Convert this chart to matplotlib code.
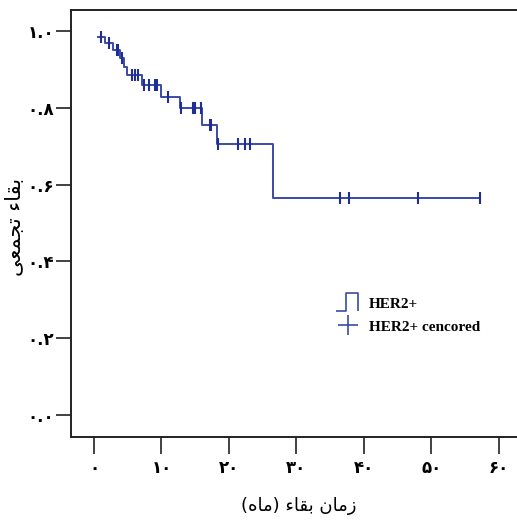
import numpy as np
import matplotlib
matplotlib.use("Agg")
import matplotlib.pyplot as plt
from matplotlib.path import Path
from matplotlib.lines import Line2D

# Kaplan-Meier levels (months, cumulative survival)
step_start = [0.55, 1.63, 2.86, 3.85, 4.5, 4.85, 7.1, 10.0, 12.7, 15.95, 18.3, 26.5]
step_surv = [0.985, 0.968, 0.950, 0.929, 0.907, 0.885, 0.859, 0.829, 0.799, 0.755, 0.706, 0.566]
last_time = 57.2

# censored cases
cens_times = [1.1, 2.3, 3.35, 3.6, 4.1, 5.7, 6.1, 6.6, 7.4, 8.2, 9.0, 9.3, 11.0,
              12.9, 14.7, 15.0, 15.9, 17.2, 17.4, 18.4, 21.4, 22.4, 23.2,
              36.4, 37.8, 48.0, 57.2]

x_ticks = [0, 10, 20, 30, 40, 50, 60]
y_ticks = [0.0, 0.2, 0.4, 0.6, 0.8, 1.0]

x_label = "زمان بقاء (ماه)"
y_label = "بقاء تجمعی"
legend_labels = ["HER2+", "HER2+ cencored"]

# presentation forms: isolated, final, initial, medial
FORMS = {
    'ا': ('\uFE8D', '\uFE8E', None, None),
    'ب': ('\uFE8F', '\uFE90', '\uFE91', '\uFE92'),
    'ت': ('\uFE95', '\uFE96', '\uFE97', '\uFE98'),
    'ج': ('\uFE9D', '\uFE9E', '\uFE9F', '\uFEA0'),
    'ز': ('\uFEAF', '\uFEB0', None, None),
    'ع': ('\uFEC9', '\uFECA', '\uFECB', '\uFECC'),
    'ق': ('\uFED5', '\uFED6', '\uFED7', '\uFED8'),
    'م': ('\uFEE1', '\uFEE2', '\uFEE3', '\uFEE4'),
    'ن': ('\uFEE5', '\uFEE6', '\uFEE7', '\uFEE8'),
    'ه': ('\uFEE9', '\uFEEA', '\uFEEB', '\uFEEC'),
    'ی': ('\uFBFC', '\uFBFD', '\uFBFE', '\uFBFF'),
    'ء': ('\uFE80', None, None, None),
}


def shape(s):
    # crude arabic shaping + rtl reversal, matplotlib has no bidi
    out = []
    for i, c in enumerate(s):
        if c not in FORMS:
            out.append(c)
            continue
        f = FORMS[c]
        prev = s[i - 1] if i > 0 else ''
        nxt = s[i + 1] if i + 1 < len(s) else ''
        jp = prev in FORMS and FORMS[prev][2] is not None and f[1] is not None
        jn = nxt in FORMS and FORMS[nxt][1] is not None and f[2] is not None
        idx = 3 if (jp and jn) else 1 if jp else 2 if jn else 0
        out.append(f[idx])
    mirror = {'(': ')', ')': '('}
    return ''.join(mirror.get(c, c) for c in reversed(out))


fa_digits = str.maketrans('0123456789', '۰۱۲۳۴۵۶۷۸۹')

line_col = '#3a4aa8'
mark_col = '#1f2e94'

fig = plt.figure(figsize=(5.17, 5.20), dpi=100)
ax = fig.add_axes([71 / 517, 83 / 520, 1 - 71 / 517, 427 / 520])

xs = step_start + [last_time]
ys = step_surv + [step_surv[-1]]
ax.step(xs, ys, where='post', color=line_col, lw=1.4)

idx = np.searchsorted(step_start, cens_times, side='right') - 1
cens_surv = [step_surv[i] for i in idx]
ax.plot(cens_times, cens_surv, ls='none', marker='|', ms=8, mew=1.5, color=mark_col)

ax.set_xlim(-3.4, 62.7)
ax.set_ylim(-0.058, 1.055)

ax.set_xticks(x_ticks)
ax.set_xticklabels([str(v).translate(fa_digits) for v in x_ticks])
ax.set_yticks(y_ticks)
ax.set_yticklabels([('%.1f' % v).translate(fa_digits) for v in y_ticks])

for s in ['left', 'bottom', 'top']:
    ax.spines[s].set_linewidth(1.4)
    ax.spines[s].set_color('#222222')
ax.spines['right'].set_visible(False)

ax.tick_params(axis='y', length=11, width=1.3, color='#333333', pad=1, labelsize=12)
ax.tick_params(axis='x', length=12, width=1.3, color='#333333', pad=4, labelsize=12)
for lab in ax.get_xticklabels() + ax.get_yticklabels():
    lab.set_fontfamily('DejaVu Sans')
    lab.set_fontweight('bold')

ax.set_xlabel(shape(x_label), fontsize=13, family='DejaVu Sans')
ax.xaxis.set_label_coords(0.51, -0.14)
# y label placed by its centre so it stays inside the canvas
fig.text(15 / 517, 1 - 227 / 520, shape(y_label), rotation=90, ha='center', va='center',
         fontsize=15, family='DejaVu Sans')

pulse = Path([(-1.0, -0.7), (-0.2, -0.7), (-0.2, 0.7), (0.8, 0.7), (0.8, -0.7)])
h1 = Line2D([], [], ls='none', marker=pulse, ms=18, mew=1.2,
            mfc='none', mec=line_col)
h2 = Line2D([], [], ls='none', marker='+', ms=14, mew=1.2, color=line_col)
leg = ax.legend([h1, h2], legend_labels, loc='center left',
                bbox_to_anchor=(0.555, 0.285), frameon=False,
                prop={'family': 'Liberation Serif', 'weight': 'bold', 'size': 11},
                handletextpad=0.4, labelspacing=0.6)

fig.savefig('out.png', dpi=100)
